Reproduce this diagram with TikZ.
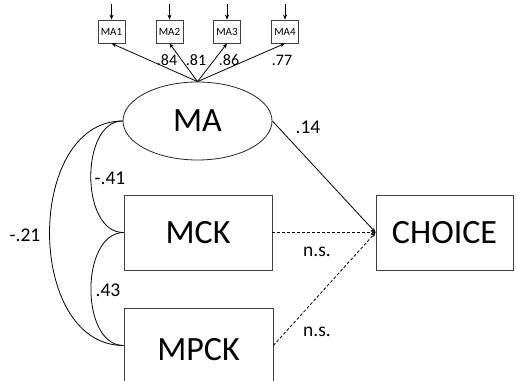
\documentclass[tikz,border=0pt]{standalone}
\usepackage{fontspec}
\setmainfont{Carlito}
\usetikzlibrary{arrows.meta,shapes.geometric}
\begin{document}
\begin{tikzpicture}[x=1pt,y=1pt,
  line width=0.8pt,
  bigbox/.style={draw=black!75,rectangle,minimum width=148pt,minimum height=75pt,inner sep=0pt,font=\fontsize{34}{36}\selectfont},
  smallbox/.style={draw=black!75,rectangle,minimum width=27pt,minimum height=23pt,inner sep=0pt,font=\fontsize{11}{12}\selectfont},
  lbl/.style={font=\fontsize{19.5}{21}\selectfont,inner sep=0pt},
  slbl/.style={font=\fontsize{16}{18}\selectfont,inner sep=0pt},
  arr/.style={-{Stealth[length=5pt,width=4pt]}},
  dsh/.style={dash pattern=on 3pt off 2pt}
]
\useasboundingbox (0,0) rectangle (516,-380);
% latent
\node[draw=black!85,ellipse,minimum width=149pt,minimum height=78pt,inner sep=0pt,font=\fontsize{34}{36}\selectfont] (MA) at (197.5,-121) {MA};
% indicators
\node[smallbox] (MA1) at (111.5,-31.5) {MA1};
\node[smallbox] (MA2) at (169.5,-31.5) {MA2};
\node[smallbox] (MA3) at (227,-31.5) {MA3};
\node[smallbox] (MA4) at (285,-31.5) {MA4};
\foreach \n/\x in {MA1/111.5,MA2/169.5,MA3/227,MA4/285}{
  \coordinate (e\n) at (\x,-4);
  \draw[arr,line width=0.7pt] (e\n) -- (\n.north);
}
\foreach \n in {MA1,MA2,MA3,MA4}{
  \draw[arr] (MA.north) -- (\n.south);
}
\node[slbl] (l1) at (167,-60) {.84};
\node[slbl] (l2) at (196,-60) {.81};
\node[slbl] (l3) at (229,-60) {.86};
\node[slbl] (l4) at (282,-60) {.77};
% observed
\node[bigbox] (MCK) at (198,-232.5) {MCK};
\node[bigbox,minimum width=149pt] (MPCK) at (198.5,-345.5) {};
\node[font=\fontsize{34}{36}\selectfont,inner sep=0pt] (MPCKt) at (198.5,-350) {MPCK};
\node[bigbox,minimum width=137pt] (CH) at (444.5,-232.5) {CHOICE};
% paths to choice
\draw[arr] (MA.east) -- (CH.west);
\draw[arr,dsh] (MCK.east) -- (CH.west);
\draw[arr,dsh] (MPCK.east) -- (CH.west);
\node[lbl] (b1) at (308,-127) {.14};
\node[lbl] (b2) at (317,-252) {n.s.};
\node[lbl] (b3) at (317,-332) {n.s.};
% covariances
\draw (MA.west) .. controls (80,-121) and (80,-233) .. (MCK.west);
\draw (MCK.west) .. controls (80,-233) and (80,-345.5) .. (MPCK.west);
\draw (MA.west) .. controls (25,-121) and (25,-345.5) .. (MPCK.west);
\node[lbl] (c1) at (110,-178) {-.41};
\node[lbl] (c2) at (25,-235) {-.21};
\node[lbl] (c3) at (108,-290) {.43};
\end{tikzpicture}
\end{document}
